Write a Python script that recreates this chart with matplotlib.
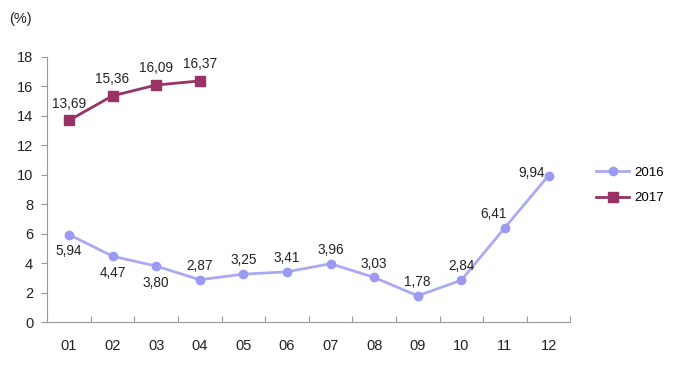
import matplotlib
matplotlib.use("Agg")
import matplotlib.pyplot as plt

plt.rcParams['font.family'] = ['Liberation Sans', 'DejaVu Sans']

months = ["01", "02", "03", "04", "05", "06", "07", "08", "09", "10", "11", "12"]
v2016 = [5.94, 4.47, 3.80, 2.87, 3.25, 3.41, 3.96, 3.03, 1.78, 2.84, 6.41, 9.94]
v2017 = [13.69, 15.36, 16.09, 16.37]
yticks = [0, 2, 4, 6, 8, 10, 12, 14, 16, 18]

c2016 = "#9a9af5"
c2016_line = "#aaaaf2"
c2017 = "#993366"

fig = plt.figure(figsize=(6.83, 3.82), dpi=100)
ax = fig.add_axes([0.069, 0.157, 0.766, 0.694])

x16 = [i + 0.5 for i in range(len(v2016))]
x17 = [i + 0.5 for i in range(len(v2017))]
ax.plot(x16, v2016, color=c2016_line, lw=2, marker='o', ms=6,
        mfc=c2016, mec=c2016, label="2016")
ax.plot(x17, v2017, color=c2017, lw=2, marker='s', ms=7,
        mfc=c2017, mec=c2017, label="2017")

def fmt(v):
    return f"{v:.2f}".replace(".", ",")

# label offsets (points)
off16 = [(0, -12), (0, -12), (0, -12), (0, 10), (0, 10), (0, 10), (0, 10),
         (0, 10), (0, 10), (0, 10), (-8, 10), (-12, 2)]
for xi, v, (dx, dy) in zip(x16, v2016, off16):
    ax.annotate(fmt(v), (xi, v), xytext=(dx, dy), textcoords='offset points',
                ha='center', va='center', fontsize=9.8, color='#222222')
for xi, v in zip(x17, v2017):
    ax.annotate(fmt(v), (xi, v), xytext=(0, 12), textcoords='offset points',
                ha='center', va='center', fontsize=9.8, color='#222222')

ax.set_xlim(0, 12)
ax.set_ylim(0, 18)
ax.set_yticks(yticks)
ax.set_xticks(range(13))
ax.set_xticklabels([])
ax.set_xticks(x16, minor=True)
ax.set_xticklabels(months, minor=True)
ax.tick_params(axis='x', which='minor', length=0, pad=12, labelsize=10.5, colors='#222222')
ax.tick_params(axis='x', which='major', length=4, direction='in', color='#999999')
ax.tick_params(axis='y', length=4, direction='out', color='#999999', labelsize=10.5,
               labelcolor='#222222', pad=6)
for s in ['top', 'right']:
    ax.spines[s].set_visible(False)
for s in ['left', 'bottom']:
    ax.spines[s].set_color('#999999')

fig.text(0.013, 0.95, "(%)", fontsize=10.5, color='#222222', va='center', ha='left')

ax.legend(loc='center left', bbox_to_anchor=(1.05, 0.515), frameon=False,
          fontsize=9.5, handlelength=2.5, handletextpad=0.4, labelspacing=1.0,
          borderaxespad=0, borderpad=0)

fig.savefig("out.png", dpi=100)
